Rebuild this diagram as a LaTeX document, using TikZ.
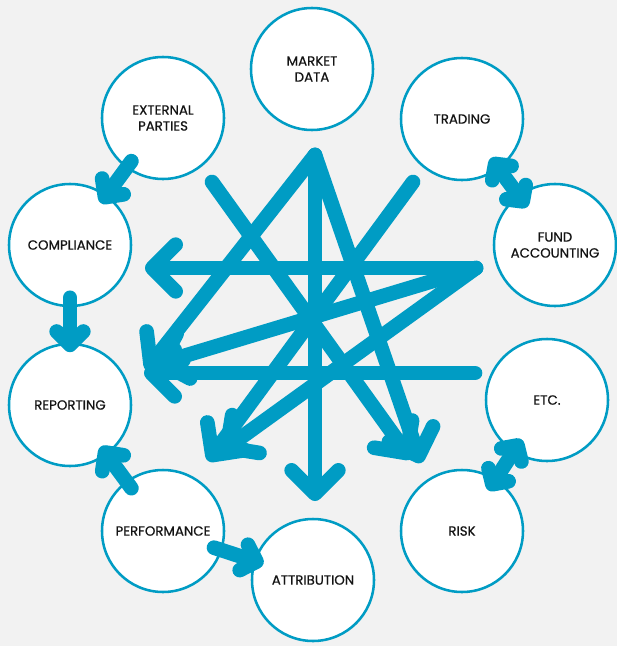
\documentclass[tikz,border=0pt]{standalone}
\usepackage{fontspec}
\setmainfont{Poppins}[FakeBold=0.6]
\usetikzlibrary{arrows.meta,calc}
\definecolor{flowblue}{RGB}{0,156,196}
\definecolor{paper}{RGB}{242,242,242}
\definecolor{ink}{RGB}{20,20,20}
\tikzset{
  hub/.style={circle, draw=flowblue, line width=1.9pt, fill=white, minimum size=91.5pt, inner sep=0pt, align=center, text=ink, font=\fontsize{10}{12}\selectfont},
  flow/.style={draw=flowblue, line width=11pt, line cap=round, preaction={draw=black, opacity=0.2, transform canvas={xshift=2pt,yshift=-3pt}}},
  bigtip/.style={-{Straight Barb[length=17.5pt,width=35pt,round]}},
  smalltip/.style={-{Straight Barb[length=10pt,width=20pt,round]}},
  twotip/.style={{Straight Barb[length=8.5pt,width=18pt,round]}-{Straight Barb[length=8.5pt,width=18pt,round]}}
}
\begin{document}
\begin{tikzpicture}[x=0.75pt,y=0.75pt,yscale=-1,xscale=1]
\fill[paper] (0,0) rectangle (617,646);
\useasboundingbox (0,0) rectangle (617,646);
% the ten circles
\node[hub] (md) at (312,69) {MARKET\\DATA};
\node[hub] (tr) at (462,119) {TRADING};
\node[hub] (fa) at (555,245) {FUND\\ACCOUNTING};
\node[hub] (etc) at (547,400) {ETC.};
\node[hub] (rk) at (462,531) {RISK};
\node[hub] (at) at (313,580) {ATTRIBUTION};
\node[hub] (pf) at (163,531) {PERFORMANCE};
\node[hub] (rp) at (70,405) {REPORTING};
\node[hub] (cp) at (70,245) {COMPLIANCE};
\node[hub] (ep) at (163,118) {EXTERNAL\\PARTIES};
% ends of the long arrows in the middle
\coordinate (apex) at (315,155);
\coordinate (faS) at (476,268);
\coordinate (etcS) at (475,373);
\coordinate (trS) at (413,182);
\coordinate (epS) at (212,182);
\coordinate (rpA) at (146,370);
\coordinate (rpB) at (154,365);
\coordinate (rpC) at (144,373);
\coordinate (cpA) at (145,268);
\coordinate (atA) at (315,501);
\coordinate (rkA) at (421,463);
\coordinate (rkB) at (411,459);
\coordinate (pfA) at (208,461);
\coordinate (pfB) at (221,452);
% long arrows
\draw[flow,bigtip] (epS) -- (rkB);
\draw[flow,bigtip] (trS) -- (pfA);
\draw[flow,bigtip] (faS) -- (pfB);
\draw[flow,bigtip] (apex) -- (rkA);
\draw[flow,bigtip] (apex) -- (atA);
\draw[flow,bigtip] (faS) -- (cpA);
\draw[flow,bigtip] (apex) -- (rpA);
\draw[flow,bigtip] (faS) -- (rpB);
\draw[flow,bigtip] (etcS) -- (rpC);
% short arrows between neighbours
\draw[flow,smalltip] ($(ep)!0.34!(cp)$) -- ($(ep)!0.67!(cp)$);
\draw[flow,smalltip] ($(cp)!0.33!(rp)$) -- ($(cp)!0.67!(rp)$);
\draw[flow,smalltip] ($(pf)!0.34!(rp)$) -- ($(pf)!0.67!(rp)$);
\draw[flow,smalltip] ($(pf)!0.34!(at)$) -- ($(pf)!0.67!(at)$);
\draw[flow,twotip] ($(tr)!0.31!(fa)$) -- ($(tr)!0.70!(fa)$);
\draw[flow,twotip] ($(etc)!0.30!(rk)$) -- ($(etc)!0.69!(rk)$);
\end{tikzpicture}
\end{document}
